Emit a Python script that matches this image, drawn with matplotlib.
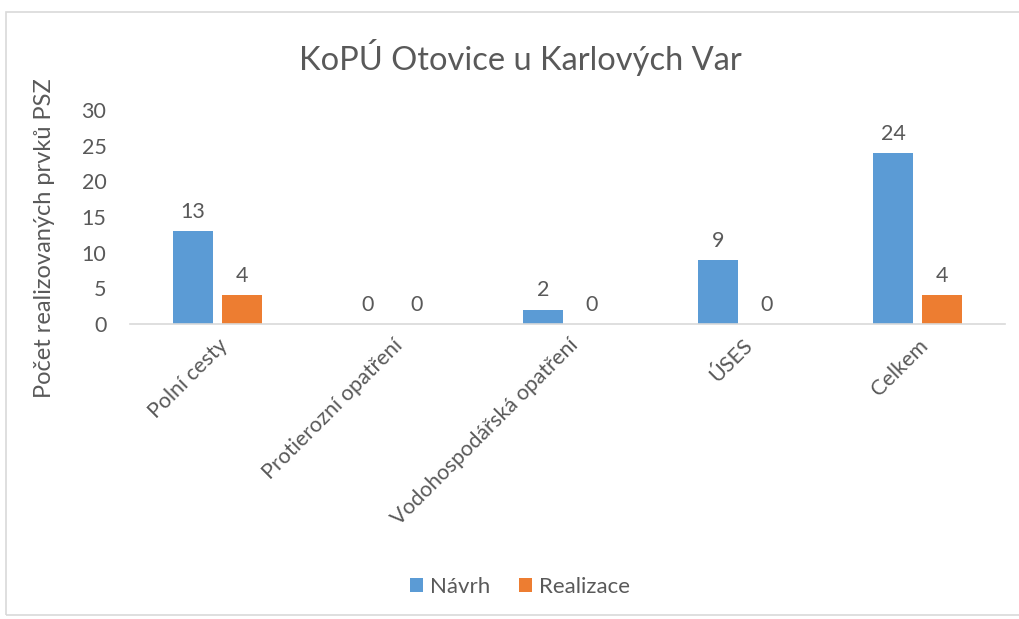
import matplotlib.pyplot as plt
import numpy as np
from matplotlib.patches import FancyBboxPatch

categories = ['Polní cesty', 'Protierozní opatření', 'Vodohospodářská opatření', 'ÚSES', 'Celkem']
navrh = [13, 0, 2, 9, 24]
realizace = [4, 0, 0, 0, 4]

plt.rcParams['font.family'] = ['Lato', 'DejaVu Sans']
txt = '#595959'

fig = plt.figure(figsize=(10.2, 6.19), dpi=100)
W, H = 1020, 619
ax = fig.add_axes([130 / W, 1 - 324 / H, 875 / W, 214 / H])

# chart frame
fig.patches.append(FancyBboxPatch((6 / W, 4 / H), 1.2, 1 - 16 / H,
                                  boxstyle='square,pad=0', transform=fig.transFigure,
                                  fill=False, edgecolor='#d9d9d9', linewidth=1.2))

x = np.arange(len(categories))
w = 0.223
off = 0.14
b1 = ax.bar(x - off, navrh, w, color='#5b9bd5', label='Návrh')
b2 = ax.bar(x + off, realizace, w, color='#ed7d31', label='Realizace')

for bars, vals in ((b1, navrh), (b2, realizace)):
    for r, v in zip(bars, vals):
        ax.text(r.get_x() + r.get_width() / 2, v + 1.3, str(v), ha='center', va='bottom',
                fontsize=15.5, color=txt)

ax.set_xlim(-0.5, len(categories) - 0.5)
ax.set_ylim(0, 30)
ax.set_yticks(range(0, 31, 5))
ax.set_xticks(x)
ax.set_xticklabels(categories, rotation=45, ha='right', rotation_mode='anchor',
                   fontsize=15.5, color=txt)
ax.tick_params(axis='y', length=0, labelsize=15.5, labelcolor=txt, pad=17)
ax.tick_params(axis='x', length=0, pad=8)
for s in ('top', 'right', 'left'):
    ax.spines[s].set_visible(False)
ax.spines['bottom'].set_color('#d9d9d9')
ax.spines['bottom'].set_linewidth(1.2)

fig.text(520 / W, 1 - 58 / H, 'KoPÚ Otovice u Karlových Var', ha='center', va='center',
         fontsize=23.5, color=txt)
fig.text(45 / W, 1 - 238 / H, 'Počet realizovaných prvků PSZ', rotation=90,
         ha='center', va='center', fontsize=17, color=txt)

fig.legend(handles=[b1, b2], loc='center', bbox_to_anchor=(520 / W, 1 - 587 / H),
           ncol=2, frameon=False, fontsize=16, labelcolor=txt,
           handlelength=0.6, handleheight=0.6, handletextpad=0.3, columnspacing=1.3)

fig.savefig('out.png', dpi=100)
